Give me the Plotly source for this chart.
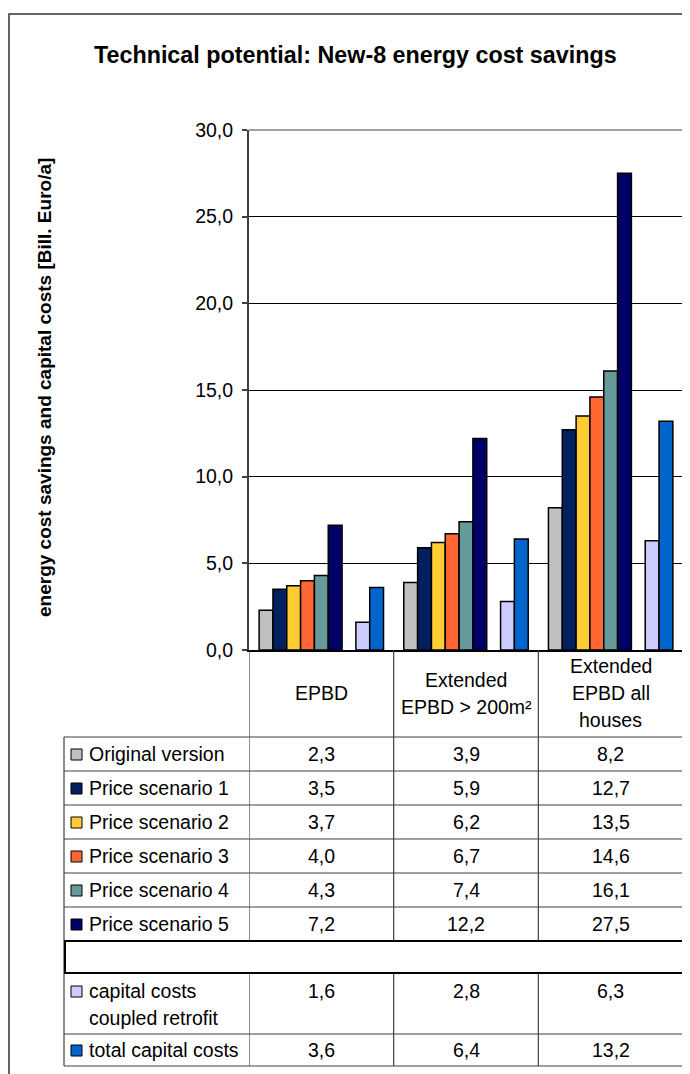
import plotly.graph_objects as go

# ---------------- data ----------------
categories = ["EPBD", "Extended EPBD > 200m²", "Extended EPBD all houses"]
header_lines = [["EPBD"], ["Extended", "EPBD > 200m²"], ["Extended", "EPBD all", "houses"]]

series_names = ["Original version", "Price scenario 1", "Price scenario 2", "Price scenario 3",
                "Price scenario 4", "Price scenario 5", "",
                "capital costs|coupled retrofit", "total capital costs"]
original_version = [2.3, 3.9, 8.2]
price_scenario_1 = [3.5, 5.9, 12.7]
price_scenario_2 = [3.7, 6.2, 13.5]
price_scenario_3 = [4.0, 6.7, 14.6]
price_scenario_4 = [4.3, 7.4, 16.1]
price_scenario_5 = [7.2, 12.2, 27.5]
empty_series = [None, None, None]
capital_costs_coupled = [1.6, 2.8, 6.3]
total_capital_costs = [3.6, 6.4, 13.2]
series_values = [original_version, price_scenario_1, price_scenario_2, price_scenario_3,
                 price_scenario_4, price_scenario_5, empty_series,
                 capital_costs_coupled, total_capital_costs]
series_colors = ["#C0C0C0", "#002060", "#FFCC33", "#FF6633", "#669999", "#000066", None,
                 "#CCCCFF", "#0066CC"]

y_ticks = [0, 5, 10, 15, 20, 25, 30]

# ---------------- geometry helpers (reference pixels -> paper) ----------------
OFF = 8                      # page body margin
FW, FH = 690 - OFF, 1074 - OFF
L, R, T, B = 249, 683, 130, 650   # plot area in reference pixels
W, H = R - L, B - T
def xp(x):
    return (x - L) / W
def yp(y):
    return (B - y) / H

FONT = "Liberation Sans, Arial, sans-serif"
TXT = 19.5

fig = go.Figure()
xs = list(range(len(categories)))
for name, vals, col in zip(series_names, series_values, series_colors):
    fig.add_trace(go.Bar(
        x=xs, y=vals, name=name.replace("|", " "),
        marker=dict(color=col if col else "rgba(0,0,0,0)", line=dict(color="#000000", width=1.5)),
        showlegend=False, hoverinfo="skip" if col is None else None,
    ))

shapes = []
annotations = []

# outer frame
shapes.append(dict(type="rect", xref="paper", yref="paper",
                   x0=xp(9), x1=xp(700), y0=yp(14), y1=yp(1090),
                   line=dict(color="#333333", width=1.5), fillcolor="rgba(0,0,0,0)", layer="below"))
# plot area top and right borders
shapes.append(dict(type="line", xref="paper", yref="paper", x0=0, x1=1, y0=1, y1=1,
                   line=dict(color="#808080", width=1.5)))
shapes.append(dict(type="line", xref="paper", yref="paper", x0=1, x1=1, y0=0, y1=1,
                   line=dict(color="#808080", width=1.5)))

# ---------------- data table ----------------
row_edges = [737, 771, 805, 839, 873, 907, 941, 973, 1034, 1066]
tbl_left = 64
line_col = "#404040"
for b in [-0.5, 0.5, 1.5, 2.5]:
    shapes.append(dict(type="line", xref="x", yref="paper", x0=b, x1=b, y0=yp(650), y1=yp(row_edges[-1]),
                       line=dict(color=line_col, width=1.2)))
shapes.append(dict(type="line", xref="paper", yref="paper", x0=xp(tbl_left), x1=xp(tbl_left),
                   y0=yp(row_edges[0]), y1=yp(row_edges[-1]), line=dict(color=line_col, width=1.2)))
for e in row_edges:
    shapes.append(dict(type="line", xref="paper", yref="paper", x0=xp(tbl_left), x1=1,
                       y0=yp(e), y1=yp(e), line=dict(color=line_col, width=1.2)))
shapes.append(dict(type="rect", xref="paper", yref="paper", x0=xp(tbl_left + 1), x1=1,
                   y0=yp(row_edges[6]), y1=yp(row_edges[7]),
                   line=dict(color="#000000", width=2), fillcolor="#FFFFFF"))

# header labels
for ci, lines in enumerate(header_lines):
    n = len(lines)
    for li, t in enumerate(lines):
        yc = 693 + (li - (n - 1) / 2) * 27
        annotations.append(dict(x=ci, xref="x", y=yp(yc), yref="paper", text=t, showarrow=False,
                                xanchor="center", yanchor="middle",
                                font=dict(family=FONT, size=TXT, color="#000000")))

# series rows
for si, (name, vals, col) in enumerate(zip(series_names, series_values, series_colors)):
    top, bot = row_edges[si], row_edges[si + 1]
    if col is None:
        continue
    parts = name.split("|")
    yc = (top + bot) / 2 if len(parts) == 1 else top + 18
    shapes.append(dict(type="rect", xref="paper", yref="paper", x0=xp(71), x1=xp(82),
                       y0=yp(yc - 5), y1=yp(yc + 6), fillcolor=col,
                       line=dict(color="#000000", width=1)))
    for li, p in enumerate(parts):
        annotations.append(dict(x=xp(87), xref="paper", y=yp(yc + li * 27), yref="paper", text=p,
                                showarrow=False, xanchor="left", yanchor="middle",
                                font=dict(family=FONT, size=TXT, color="#000000")))
    for ci, v in enumerate(vals):
        annotations.append(dict(x=ci, xref="x", y=yp(yc), yref="paper",
                                text=f"{v:.1f}".replace(".", ","), showarrow=False,
                                xanchor="center", yanchor="middle",
                                font=dict(family=FONT, size=TXT, color="#000000")))

# title
annotations.append(dict(x=xp(355), xref="paper", y=yp(55), yref="paper",
                        text="<b>Technical potential: New-8 energy cost savings</b>", showarrow=False,
                        xanchor="center", yanchor="middle",
                        font=dict(family=FONT, size=23.3, color="#000000")))
# y-axis title
annotations.append(dict(x=xp(44), xref="paper", y=yp(388), yref="paper",
                        text="<b>energy cost savings and capital costs [Bill. Euro/a]</b>",
                        showarrow=False, textangle=-90, xanchor="center", yanchor="middle",
                        font=dict(family=FONT, size=19, color="#000000")))

fig.update_layout(
    width=FW, height=FH,
    margin=dict(l=L - OFF, r=FW - (R - OFF), t=T - OFF, b=FH - (B - OFF), pad=0),
    paper_bgcolor="#FFFFFF", plot_bgcolor="#FFFFFF",
    barmode="group", bargap=0.14, bargroupgap=0,
    separators=", ",
    shapes=shapes, annotations=annotations,
    showlegend=False,
    font=dict(family=FONT, color="#000000"),
)
fig.update_xaxes(range=[-0.5, 2.5], showticklabels=False, showgrid=False, zeroline=False,
                 showline=True, linecolor="#000000", linewidth=1.5, ticks="", fixedrange=True)
fig.update_yaxes(range=[0, 30], tickvals=y_ticks, tickformat=".1f", showgrid=True,
                 gridcolor="#000000", gridwidth=1, zeroline=False,
                 showline=True, linecolor="#404040", linewidth=2,
                 ticks="outside", ticklen=5, tickcolor="#404040", tickwidth=1.5,
                 ticklabelstandoff=5,
                 tickfont=dict(family=FONT, size=TXT, color="#000000"), fixedrange=True)

fig.write_html("out.html")
